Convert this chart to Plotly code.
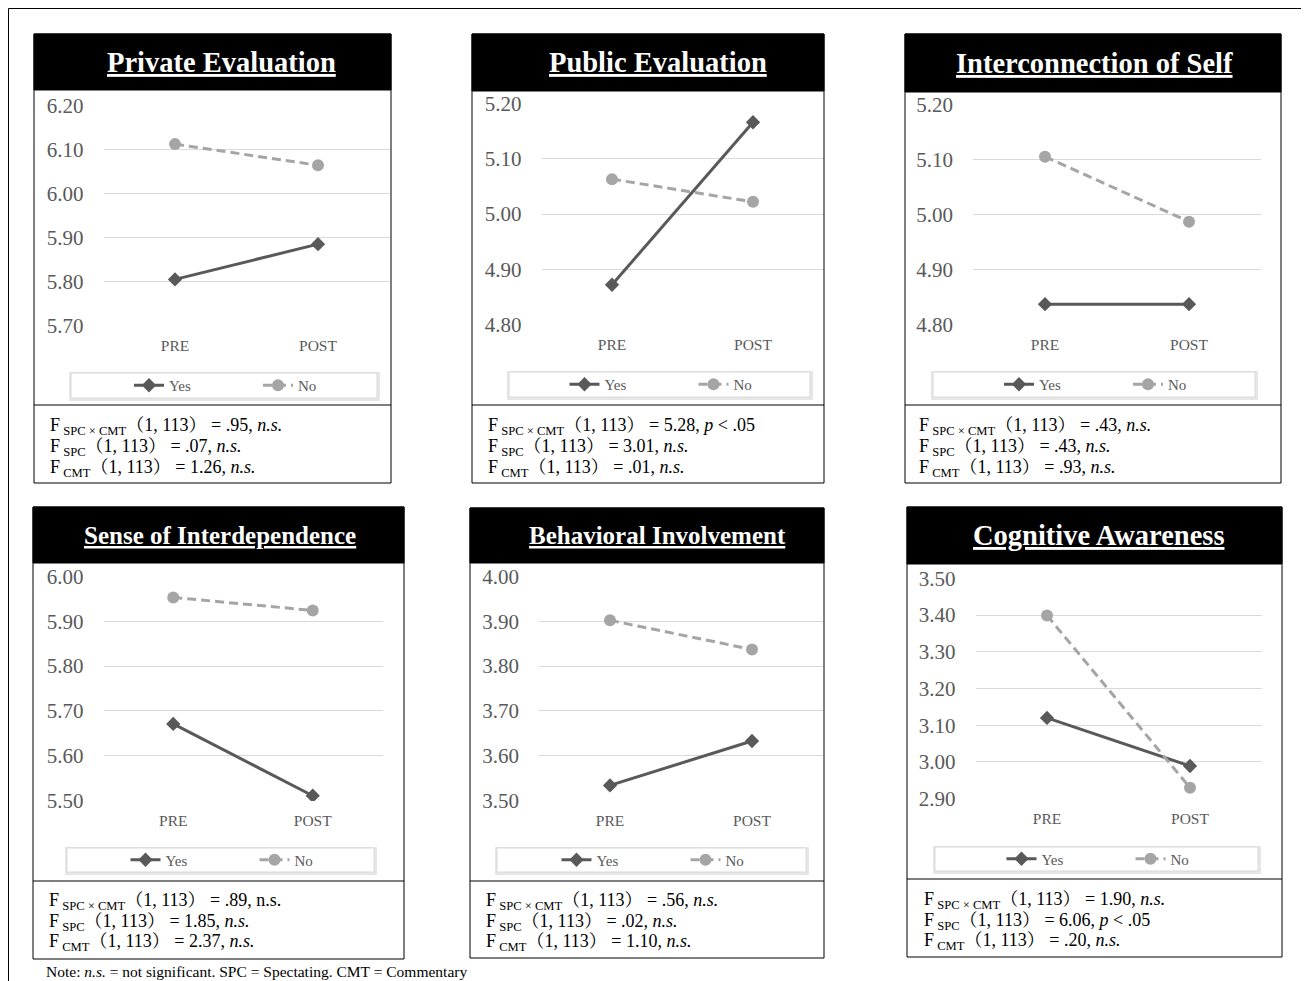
import plotly.graph_objects as go

W, H = 1309, 981

# ---------------- data ----------------
categories = ["PRE", "POST"]
series_names = ["Yes", "No"]
titles = ["Private Evaluation", "Public Evaluation", "Interconnection of Self",
          "Sense of Interdependence", "Behavioral Involvement", "Cognitive Awareness"]

private_yes = [5.805, 5.885]
private_no = [6.112, 6.064]
public_yes = [4.872, 5.166]
public_no = [5.063, 5.022]
interconnection_yes = [4.837, 4.837]
interconnection_no = [5.105, 4.987]
interdependence_yes = [5.671, 5.511]
interdependence_no = [5.953, 5.924]
behavioral_yes = [3.534, 3.633]
behavioral_no = [3.902, 3.837]
cognitive_yes = [3.120, 2.989]
cognitive_no = [3.399, 2.930]

yes_series = [private_yes, public_yes, interconnection_yes,
              interdependence_yes, behavioral_yes, cognitive_yes]
no_series = [private_no, public_no, interconnection_no,
             interdependence_no, behavioral_no, cognitive_no]

y_ranges = [(5.70, 6.20), (4.80, 5.20), (4.80, 5.20),
            (5.50, 6.00), (3.50, 4.00), (2.90, 3.50)]

stats_lines = [
    ["F<sub> SPC × CMT</sub>（1, 113） = .95, <i>n.s.</i>",
     "F<sub> SPC</sub>（1, 113） = .07, <i>n.s.</i>",
     "F<sub> CMT</sub>（1, 113） = 1.26, <i>n.s.</i>"],
    ["F<sub> SPC × CMT</sub>（1, 113） = 5.28, <i>p</i> < .05",
     "F<sub> SPC</sub>（1, 113） = 3.01, <i>n.s.</i>",
     "F<sub> CMT</sub>（1, 113） = .01, <i>n.s.</i>"],
    ["F<sub> SPC × CMT</sub>（1, 113） = .43, <i>n.s.</i>",
     "F<sub> SPC</sub>（1, 113） = .43, <i>n.s.</i>",
     "F<sub> CMT</sub>（1, 113） = .93, <i>n.s.</i>"],
    ["F<sub> SPC × CMT</sub>（1, 113） = .89, n.s.",
     "F<sub> SPC</sub>（1, 113） = 1.85, <i>n.s.</i>",
     "F<sub> CMT</sub>（1, 113） = 2.37, <i>n.s.</i>"],
    ["F<sub> SPC × CMT</sub>（1, 113） = .56, <i>n.s.</i>",
     "F<sub> SPC</sub>（1, 113） = .02, <i>n.s.</i>",
     "F<sub> CMT</sub>（1, 113） = 1.10, <i>n.s.</i>"],
    ["F<sub> SPC × CMT</sub>（1, 113） = 1.90, <i>n.s.</i>",
     "F<sub> SPC</sub>（1, 113） = 6.06, <i>p</i> < .05",
     "F<sub> CMT</sub>（1, 113） = .20, <i>n.s.</i>"],
]
note_text = "Note: <i>n.s.</i> = not significant. SPC = Spectating. CMT = Commentary"

# ---------------- layout geometry (page pixels) ----------------
panels = [
    dict(box=(34, 391), band=(34, 90), sep=405, bottom=483, xd=(103.5, 389.5), yd=(105, 326),
         leg=(71, 377, 373, 398), tx=48, lines=(426, 447, 468), tsize=28.5, tcx=221),
    dict(box=(472, 824), band=(34, 91), sep=405, bottom=483, xd=(541.5, 823.5), yd=(103, 325),
         leg=(509, 810, 372, 397), tx=486, lines=(426, 447, 468), tsize=28.5, tcx=657.5),
    dict(box=(905, 1281), band=(34, 92), sep=405, bottom=483, xd=(973, 1261), yd=(104, 325),
         leg=(933, 1255, 372, 397), tx=917, lines=(426, 447, 468), tsize=28.5, tcx=1094),
    dict(box=(33, 404), band=(507, 563), sep=881, bottom=959, xd=(103.5, 382.5), yd=(576, 801),
         leg=(67, 374, 848, 872), tx=47, lines=(901, 922, 942), tsize=25, tcx=220),
    dict(box=(470, 824), band=(508, 563), sep=881, bottom=958, xd=(539, 823), yd=(576, 801),
         leg=(497, 806, 848, 872), tx=484, lines=(901, 922, 942), tsize=25, tcx=657),
    dict(box=(907, 1282), band=(507, 564), sep=879, bottom=957, xd=(975.5, 1261.5), yd=(578, 799),
         leg=(935, 1258, 847, 871), tx=922, lines=(900, 921, 941), tsize=28.5, tcx=1098),
]

OFF = 8  # page body margin in front of the figure


def px(x):
    return (x - OFF) / W


def py(y):
    return 1 - (y - OFF) / H


SERIF = "Liberation Serif, Times New Roman, Noto Serif CJK JP, Noto Sans CJK JP, serif"
YES_COLOR = "#595959"
NO_COLOR = "#A5A5A5"
GRID = "#D9D9D9"

fig = go.Figure()
shapes = []
annotations = []
layout_axes = {}

# outer frame
shapes.append(dict(type="rect", xref="paper", yref="paper",
                   x0=px(8.5), x1=px(1305), y0=py(1000), y1=py(8.5),
                   line=dict(color="black", width=1), fillcolor="rgba(0,0,0,0)"))

for i, p in enumerate(panels):
    n = i + 1
    suffix = "" if n == 1 else str(n)
    xa, ya = "x" + suffix, "y" + suffix
    leg_name = "legend" + suffix

    fig.add_trace(go.Scatter(
        x=categories, y=yes_series[i], name=series_names[0], xaxis=xa, yaxis=ya,
        mode="lines+markers", legend=leg_name,
        line=dict(color=YES_COLOR, width=3),
        marker=dict(symbol="diamond", size=11, color=YES_COLOR),
        hoverinfo="skip"))
    fig.add_trace(go.Scatter(
        x=categories, y=no_series[i], name=series_names[1], xaxis=xa, yaxis=ya,
        mode="lines+markers", legend=leg_name,
        line=dict(color=NO_COLOR, width=3, dash="9px,5px"),
        marker=dict(symbol="circle", size=12, color=NO_COLOR),
        hoverinfo="skip"))

    lo, hi = y_ranges[i]
    layout_axes["xaxis" + suffix] = dict(
        domain=[px(p["xd"][0]), px(p["xd"][1])], anchor=ya, type="category",
        range=[-0.5, 1.5], showgrid=False, zeroline=False, showline=False, ticks="",
        tickfont=dict(family=SERIF, size=15.5, color=YES_COLOR), ticklabelstandoff=8,
        automargin=False, fixedrange=True)
    layout_axes["yaxis" + suffix] = dict(
        domain=[py(p["yd"][1]), py(p["yd"][0])], anchor=xa,
        range=[lo - 0.0008, hi + 0.0008], dtick=0.1, tick0=lo, tickformat=".2f",
        showgrid=True, gridcolor=GRID, gridwidth=1, zeroline=False, showline=False, ticks="",
        tickfont=dict(family=SERIF, size=21, color=YES_COLOR), ticklabelstandoff=19,
        automargin=False, fixedrange=True)

    bx0, bx1 = p["box"]
    # title band
    shapes.append(dict(type="rect", xref="paper", yref="paper",
                       x0=px(bx0), x1=px(bx1), y0=py(p["band"][1]), y1=py(p["band"][0]),
                       line=dict(color="black", width=1), fillcolor="black"))
    # panel border
    shapes.append(dict(type="rect", xref="paper", yref="paper",
                       x0=px(bx0), x1=px(bx1), y0=py(p["bottom"]), y1=py(p["band"][0]),
                       line=dict(color="black", width=1), fillcolor="rgba(0,0,0,0)"))
    # separator above stats
    shapes.append(dict(type="line", xref="paper", yref="paper",
                       x0=px(bx0), x1=px(bx1), y0=py(p["sep"]), y1=py(p["sep"]),
                       line=dict(color="black", width=1)))
    # legend box with soft shadow
    lx0, lx1, ly0, ly1 = p["leg"]
    shapes.append(dict(type="rect", xref="paper", yref="paper",
                       x0=px(lx0 - 2), x1=px(lx1 + 3), y0=py(ly1 + 3), y1=py(ly0 - 1),
                       line=dict(width=0), fillcolor="#E6E6E6", layer="below"))
    shapes.append(dict(type="rect", xref="paper", yref="paper",
                       x0=px(lx0), x1=px(lx1), y0=py(ly1), y1=py(ly0),
                       line=dict(color=GRID, width=1), fillcolor="white", layer="below"))

    layout_axes[leg_name] = dict(
        x=px((lx0 + lx1) / 2 + 34), y=py((ly0 + ly1) / 2), xanchor="center", yanchor="middle",
        orientation="h", bgcolor="rgba(0,0,0,0)", borderwidth=0,
        font=dict(family=SERIF, size=15, color=YES_COLOR),
        entrywidth=84, itemclick=False, itemdoubleclick=False, tracegroupgap=0)

    # title text
    annotations.append(dict(
        xref="paper", yref="paper", x=px(p["tcx"]), y=py((p["band"][0] + p["band"][1]) / 2),
        xanchor="center", yanchor="middle", showarrow=False,
        text="<b><u>" + titles[i] + "</u></b>",
        font=dict(family=SERIF, size=p["tsize"], color="white")))

    # statistics
    for line_text, ly in zip(stats_lines[i], p["lines"]):
        annotations.append(dict(
            xref="paper", yref="paper", x=px(p["tx"]), y=py(ly),
            xanchor="left", yanchor="middle", showarrow=False, text=line_text,
            font=dict(family=SERIF, size=18, color="black")))

annotations.append(dict(
    xref="paper", yref="paper", x=px(44), y=py(971), xanchor="left", yanchor="middle",
    showarrow=False, text=note_text, font=dict(family=SERIF, size=15.5, color="black")))

fig.update_layout(
    width=W, height=H, margin=dict(l=0, r=0, t=0, b=0, autoexpand=False),
    paper_bgcolor="white", plot_bgcolor="white",
    shapes=shapes, annotations=annotations, **layout_axes)

fig.write_html("out.html")
